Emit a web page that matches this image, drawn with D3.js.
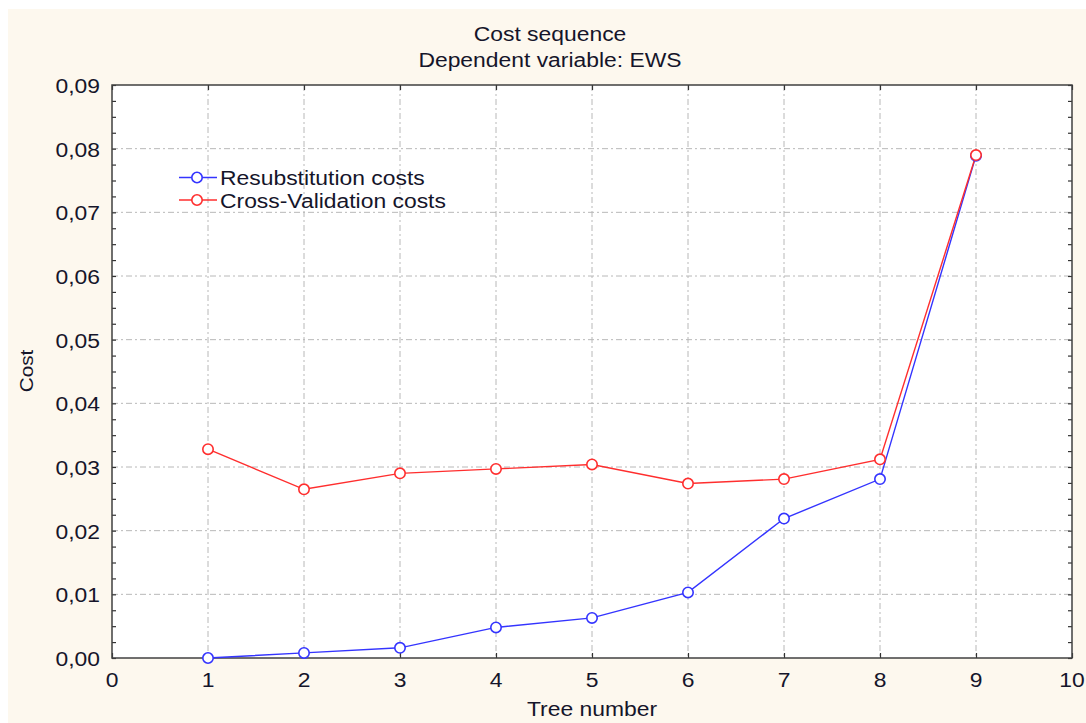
<!DOCTYPE html>
<html><head><meta charset="utf-8">
<script src="https://cdn.jsdelivr.net/npm/d3@7"></script>
<style>body{margin:0;background:#fff;} text{font-family:"Liberation Sans",Arial,sans-serif;fill:#15152a;}</style>
</head><body>
<svg id="chart" width="1086" height="723"></svg>
<script>
const treeNumbers = [1,2,3,4,5,6,7,8,9];
const resubCosts = [0.0000,0.0008,0.0016,0.0048,0.0063,0.0103,0.0219,0.0281,0.0789];
const cvCosts = [0.0328,0.0265,0.0290,0.0297,0.0304,0.0274,0.0281,0.0312,0.0790];
const xTicks = [0,1,2,3,4,5,6,7,8,9,10];
const yTicks = [0,0.01,0.02,0.03,0.04,0.05,0.06,0.07,0.08,0.09];
const seriesNames = ["Resubstitution costs","Cross-Validation costs"];
const seriesColors = ["#3434ff","#ff2e2e"];

const SX = 1.09;
const svg = d3.select("#chart");
function label(parent, x, y, str, size, anchor, rot) {
  const g = parent.append("g").attr("transform", `translate(${x},${y})` + (rot ? ` rotate(${rot})` : "") + ` scale(${SX},1)`);
  g.append("text").attr("text-anchor", anchor || "start").attr("font-size", size).text(str);
  return g;
}

svg.append("rect").attr("x",8).attr("y",9).attr("width",1078).attr("height",714).attr("fill","#fdf8ee");
const L=112,R=1072,T=85,B=658;
const x = d3.scaleLinear().domain([0,10]).range([L,R]);
const y = d3.scaleLinear().domain([0,0.09]).range([B,T]);
svg.append("rect").attr("x",L).attr("y",T).attr("width",R-L).attr("height",B-T).attr("fill","#fff");

// grid
const g = svg.append("g");
g.selectAll(".vx").data(xTicks.slice(1,-1)).join("line")
 .attr("x1",d=>x(d)).attr("x2",d=>x(d)).attr("y1",T).attr("y2",B)
 .attr("stroke","#b8b8b8").attr("stroke-width",1).attr("stroke-dasharray","6,3,2,3");
g.selectAll(".hy").data(yTicks.slice(1,-1)).join("line")
 .attr("y1",d=>y(d)).attr("y2",d=>y(d)).attr("x1",L).attr("x2",R)
 .attr("stroke","#b8b8b8").attr("stroke-width",1).attr("stroke-dasharray","6,3,2,3");

// axes
const fmt = d=>d3.format(".2f")(d).replace(".",",");
const minorY = d3.range(0,0.09001,0.0025);
const axL = svg.append("g").attr("transform",`translate(${L},0)`)
 .call(d3.axisRight(y).tickValues(minorY).tickSize(4).tickFormat(""));
const axR = svg.append("g").attr("transform",`translate(${R},0)`)
 .call(d3.axisLeft(y).tickValues(minorY).tickSize(4).tickFormat(""));
const axB = svg.append("g").attr("transform",`translate(0,${B})`)
 .call(d3.axisTop(x).tickValues(xTicks).tickSize(5).tickFormat(""));
const axT = svg.append("g").attr("transform",`translate(0,${T})`)
 .call(d3.axisBottom(x).tickValues(xTicks).tickSize(5).tickFormat(""));
[axL,axR,axB,axT].forEach(a=>{a.select(".domain").remove();a.selectAll("line").attr("stroke","#333").attr("stroke-width",1.2);});
svg.append("rect").attr("x",L).attr("y",T).attr("width",R-L).attr("height",B-T).attr("fill","none").attr("stroke","#404040").attr("stroke-width",1.5);

// tick labels
const yl = svg.append("g");
yTicks.forEach(d=>label(yl, L-12, y(d)+8, fmt(d), 21, "end"));
const xl = svg.append("g");
xTicks.forEach(d=>label(xl, x(d), B+29, String(d), 21, "middle"));

// titles
label(svg, 550, 41, "Cost sequence", 21, "middle");
label(svg, 550, 67, "Dependent variable: EWS", 21, "middle");
label(svg, 592, 716, "Tree number", 21, "middle");
label(svg, 33, 371, "Cost", 19, "middle", -90);

// series
const data = [resubCosts,cvCosts];
const line = d3.line().x((d,i)=>x(treeNumbers[i])).y(d=>y(d));
data.forEach((vals,k)=>{
  svg.append("path").attr("d",line(vals)).attr("fill","none").attr("stroke",seriesColors[k]).attr("stroke-width",1.4);
});
data.forEach((vals,k)=>{
  svg.append("g").selectAll("circle").data(vals).join("circle")
   .attr("cx",(d,i)=>x(treeNumbers[i])).attr("cy",d=>y(d)).attr("r",5.2)
   .attr("fill","#fff").attr("stroke",seriesColors[k]).attr("stroke-width",1.6);
});

// legend
seriesNames.forEach((n,k)=>{
  const ly = 177.5 + k*22.5;
  svg.append("line").attr("x1",179).attr("x2",217).attr("y1",ly).attr("y2",ly).attr("stroke",seriesColors[k]).attr("stroke-width",1.4);
  svg.append("circle").attr("cx",197).attr("cy",ly).attr("r",5.2).attr("fill","#fff").attr("stroke",seriesColors[k]).attr("stroke-width",1.6);
  label(svg, 220, ly+7.5, n, 21, "start");
});
</script>
</body></html>
